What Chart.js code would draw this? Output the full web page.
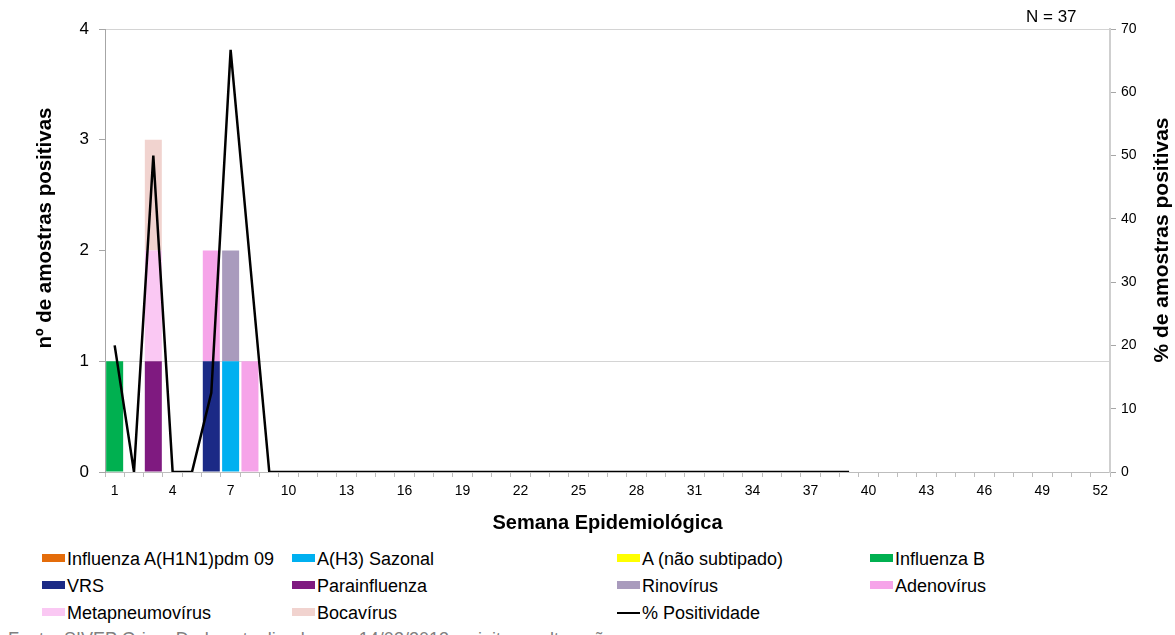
<!DOCTYPE html>
<html>
<head>
<meta charset="utf-8">
<script src="https://cdn.jsdelivr.net/npm/chart.js@4/dist/chart.umd.min.js"></script>
<style>
  body { margin: 0; background: #fff; font-family: "Liberation Sans", Arial, sans-serif; }
  #wrap { position: relative; width: 1175px; height: 635px; overflow: hidden; }
  #chart { position: absolute; left: 0; top: 0; }
  #nlabel { position: absolute; left: 1026px; top: 7px; font-size: 17px; color: #000; }
  .leg { position: absolute; font-size: 18px; color: #000; white-space: nowrap; line-height: 20px; }
  .sw { display: inline-block; width: 23px; height: 8px; vertical-align: middle; margin-right: 2px; position: relative; top: -2px; }
  #fonte { position: absolute; left: 8px; top: 629px; font-size: 18px; color: #808080; white-space: nowrap; }
</style>
</head>
<body>
<div id="wrap">
  <canvas id="chart" width="1175" height="540"></canvas>
  <div id="nlabel">N = 37</div>
  <div id="legend"></div>
  <div id="fonte">Fonte: SIVEP Gripe. Dados atualizados em 14/03/2013, sujeitos a alterações.</div>
</div>
<script>
// semanas epidemiologicas 1..52
var weeks = [];
for (let i = 1; i <= 52; i++) weeks.push(String(i));

// nº de amostras positivas por semana (semanas 1..52)
var h1n1     = [0,0,0,0,0,0,0,0,0,0,0,0,0,0,0,0,0,0,0,0,0,0,0,0,0,0,0,0,0,0,0,0,0,0,0,0,0,0,0,0,0,0,0,0,0,0,0,0,0,0,0,0];
var h3       = [0,0,0,0,0,0,1,0,0,0,0,0,0,0,0,0,0,0,0,0,0,0,0,0,0,0,0,0,0,0,0,0,0,0,0,0,0,0,0,0,0,0,0,0,0,0,0,0,0,0,0,0];
var aNaoSub  = [0,0,0,0,0,0,0,0,0,0,0,0,0,0,0,0,0,0,0,0,0,0,0,0,0,0,0,0,0,0,0,0,0,0,0,0,0,0,0,0,0,0,0,0,0,0,0,0,0,0,0,0];
var fluB     = [1,0,0,0,0,0,0,0,0,0,0,0,0,0,0,0,0,0,0,0,0,0,0,0,0,0,0,0,0,0,0,0,0,0,0,0,0,0,0,0,0,0,0,0,0,0,0,0,0,0,0,0];
var vrs      = [0,0,0,0,0,1,0,0,0,0,0,0,0,0,0,0,0,0,0,0,0,0,0,0,0,0,0,0,0,0,0,0,0,0,0,0,0,0,0,0,0,0,0,0,0,0,0,0,0,0,0,0];
var parainf  = [0,0,1,0,0,0,0,0,0,0,0,0,0,0,0,0,0,0,0,0,0,0,0,0,0,0,0,0,0,0,0,0,0,0,0,0,0,0,0,0,0,0,0,0,0,0,0,0,0,0,0,0];
var rino     = [0,0,0,0,0,0,1,0,0,0,0,0,0,0,0,0,0,0,0,0,0,0,0,0,0,0,0,0,0,0,0,0,0,0,0,0,0,0,0,0,0,0,0,0,0,0,0,0,0,0,0,0];
var adeno    = [0,0,0,0,0,1,0,1,0,0,0,0,0,0,0,0,0,0,0,0,0,0,0,0,0,0,0,0,0,0,0,0,0,0,0,0,0,0,0,0,0,0,0,0,0,0,0,0,0,0,0,0];
var metapneu = [0,0,1,0,0,0,0,0,0,0,0,0,0,0,0,0,0,0,0,0,0,0,0,0,0,0,0,0,0,0,0,0,0,0,0,0,0,0,0,0,0,0,0,0,0,0,0,0,0,0,0,0];
var boca     = [0,0,1,0,0,0,0,0,0,0,0,0,0,0,0,0,0,0,0,0,0,0,0,0,0,0,0,0,0,0,0,0,0,0,0,0,0,0,0,0,0,0,0,0,0,0,0,0,0,0,0,0];

// % positividade (semanas 1..39, depois sem dados)
var positividade = [20,0,50,0,0,12.5,66.7,33.3,0,0,0,0,0,0,0,0,0,0,0,0,0,0,0,0,0,0,0,0,0,0,0,0,0,0,0,0,0,0,0,
  null,null,null,null,null,null,null,null,null,null,null,null,null];

var seriesNames = ["Influenza A(H1N1)pdm 09", "A(H3) Sazonal", "A (não subtipado)", "Influenza B",
  "VRS", "Parainfluenza", "Rinovírus", "Adenovírus", "Metapneumovírus", "Bocavírus"];
var seriesData = [h1n1, h3, aNaoSub, fluB, vrs, parainf, rino, adeno, metapneu, boca];
var seriesColors = ["#E46C0A", "#00B0F0", "#FFFF00", "#00B050", "#1B2A86", "#7F1A80",
  "#A99BBD", "#F6A4E9", "#FAC8F3", "#F1D3CF"];
var lineName = "% Positividade";

var leftTicks = [0, 1, 2, 3, 4];
var rightTicks = [0, 10, 20, 30, 40, 50, 60, 70];

// build datasets
var datasets = [];
for (let i = 0; i < seriesNames.length; i++) {
  datasets.push({
    type: "bar",
    label: seriesNames[i],
    data: seriesData[i],
    backgroundColor: seriesColors[i],
    borderWidth: 0,
    barPercentage: 1,
    categoryPercentage: 0.88,
    yAxisID: "y",
    order: 1
  });
}
datasets.push({
  type: "line",
  label: lineName,
  data: positividade,
  borderColor: "#000",
  borderWidth: 2.5,
  pointRadius: 0,
  tension: 0,
  spanGaps: false,
  yAxisID: "y1",
  order: 0
});

// titulos verticais desenhados a mao (direita le de baixo para cima)
var sideTitles = {
  id: "sideTitles",
  afterDraw(chart) {
    const ctx = chart.ctx;
    ctx.save();
    ctx.fillStyle = "#000";
    ctx.textAlign = "center";
    ctx.textBaseline = "middle";
    ctx.font = "bold 20.5px 'Liberation Sans', Arial, sans-serif";
    ctx.translate(45, 228);
    ctx.rotate(-Math.PI / 2);
    ctx.fillText("nº de amostras positivas", 0, 0);
    ctx.restore();

    ctx.save();
    ctx.fillStyle = "#000";
    ctx.textAlign = "center";
    ctx.textBaseline = "middle";
    ctx.font = "bold 21px 'Liberation Sans', Arial, sans-serif";
    ctx.translate(1162, 240);
    ctx.rotate(-Math.PI / 2);
    ctx.fillText("% de amostras positivas", 0, 0);
    ctx.restore();
  }
};

new Chart(document.getElementById("chart"), {
  data: { labels: weeks, datasets: datasets },
  options: {
    responsive: false,
    animation: false,
    layout: { padding: { top: 29, left: 0, right: 0, bottom: 0 } },
    plugins: { legend: { display: false }, tooltip: { enabled: false } },
    scales: {
      x: {
        stacked: true,
        afterFit: (s) => { s.height = 68; },
        border: { color: "#bdbdbd", dash: [3, 3], width: 1 },
        grid: { drawOnChartArea: false, tickLength: 5, color: "#bdbdbd" },
        ticks: {
          autoSkip: false,
          maxRotation: 0,
          padding: 6,
          color: "#000",
          font: { family: "'Liberation Sans', Arial, sans-serif", size: 14 },
          callback: (v, i) => (i % 3 === 0 ? weeks[i] : "")
        },
        title: {
          display: true,
          text: "Semana Epidemiológica",
          color: "#000",
          font: { family: "'Liberation Sans', Arial, sans-serif", size: 20, weight: "bold" },
          padding: { top: 0, bottom: 5 }
        }
      },
      y: {
        stacked: true,
        position: "left",
        min: 0,
        max: 4,
        afterFit: (s) => { s.width = 105; },
        afterBuildTicks: (s) => { s.ticks = leftTicks.map((v) => ({ value: v })); },
        border: { color: "#a6a6a6", width: 1 },
        grid: {
          tickLength: 6,
          tickColor: "#a6a6a6",
          color: (c) => (c.tick && (c.tick.value === 1 || c.tick.value === 4) ? "#d4d4d4" : "rgba(0,0,0,0)")
        },
        ticks: {
          padding: 10,
          color: "#000",
          font: { family: "'Liberation Sans', Arial, sans-serif", size: 17 }
        }
      },
      y1: {
        position: "right",
        min: 0,
        max: 70,
        afterFit: (s) => { s.width = 65; },
        afterBuildTicks: (s) => { s.ticks = rightTicks.map((v) => ({ value: v })); },
        border: { color: "#cfcfcf", width: 2 },
        grid: { drawOnChartArea: false, tickLength: 6, color: "#a6a6a6" },
        ticks: {
          padding: 5,
          color: "#000",
          font: { family: "'Liberation Sans', Arial, sans-serif", size: 14 }
        }
      }
    }
  },
  plugins: [sideTitles]
});

// legenda em 4 colunas
var legCols = [42, 292, 617, 870];
var legRows = [549, 576, 603];
var legend = document.getElementById("legend");
var legItems = seriesNames.map((n, i) => ({ name: n, color: seriesColors[i], line: false }));
legItems.push({ name: lineName, color: "#000", line: true });
legItems.forEach((it, i) => {
  const d = document.createElement("div");
  d.className = "leg";
  d.style.left = legCols[i % 4] + "px";
  d.style.top = legRows[Math.floor(i / 4)] + "px";
  const sw = document.createElement("span");
  sw.className = "sw";
  if (it.line) {
    sw.style.height = "2px";
    sw.style.top = "-1px";
  }
  sw.style.background = it.color;
  d.appendChild(sw);
  d.appendChild(document.createTextNode(it.name));
  legend.appendChild(d);
});
</script>
</body>
</html>
